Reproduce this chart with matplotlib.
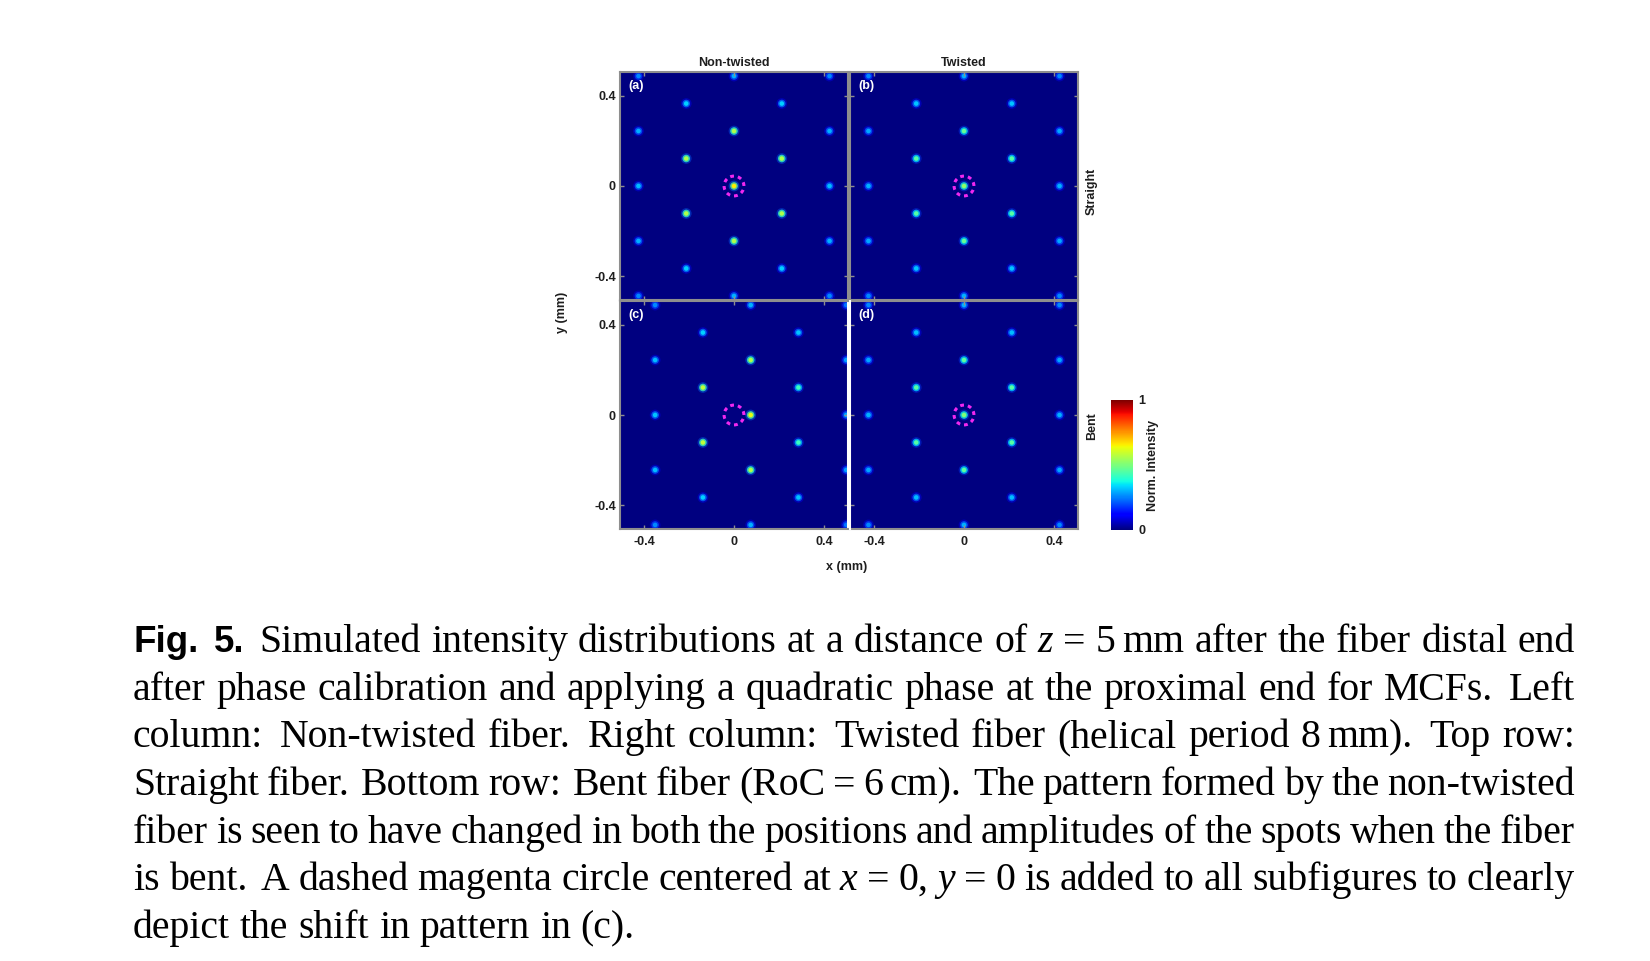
import numpy as np
import matplotlib
matplotlib.use("Agg")
import matplotlib.pyplot as plt
from matplotlib.patches import Circle

plt.rcParams["font.family"] = ["Liberation Sans", "DejaVu Sans"]
plt.rcParams["axes.unicode_minus"] = False

W, H = 1650, 961

# axis ticks
ticks = [-0.4, 0, 0.4]
tick_labels = ["-0.4", "0", "0.4"]
lim = 0.506

# core positions (mm), straight / twisted-bent panels share the same lattice
lattice_x = [0, 0, 0, 0, 0,
             -0.212, -0.212, -0.212, -0.212, 0.212, 0.212, 0.212, 0.212,
             -0.424, -0.424, -0.424, -0.424, -0.424, 0.424, 0.424, 0.424, 0.424, 0.424]
lattice_y = [0.488, 0.244, 0, -0.244, -0.488,
             0.366, 0.122, -0.122, -0.366, 0.366, 0.122, -0.122, -0.366,
             0.488, 0.244, 0, -0.244, -0.488, 0.488, 0.244, 0, -0.244, -0.488]

# bent non-twisted: pattern shifted to the right
shifted_x = [0.074, 0.074, 0.074, 0.074, 0.074,
             -0.138, -0.138, -0.138, -0.138, 0.286, 0.286, 0.286, 0.286,
             -0.350, -0.350, -0.350, -0.350, -0.350, 0.498, 0.498, 0.498, 0.498, 0.498]
shifted_y = lattice_y

amp_a = [0.30, 0.56, 0.66, 0.56, 0.30,
         0.33, 0.56, 0.56, 0.33, 0.33, 0.56, 0.56, 0.33,
         0.26, 0.30, 0.31, 0.30, 0.26, 0.26, 0.30, 0.31, 0.30, 0.26]
amp_b = [0.30, 0.47, 0.52, 0.47, 0.30,
         0.32, 0.45, 0.45, 0.32, 0.32, 0.45, 0.45, 0.32,
         0.26, 0.29, 0.30, 0.29, 0.26, 0.26, 0.29, 0.30, 0.29, 0.26]
amp_c = [0.30, 0.56, 0.63, 0.56, 0.30,
         0.33, 0.58, 0.58, 0.33, 0.32, 0.42, 0.42, 0.32,
         0.26, 0.31, 0.32, 0.31, 0.26, 0.24, 0.28, 0.29, 0.28, 0.24]
amp_d = [0.30, 0.46, 0.50, 0.46, 0.30,
         0.31, 0.45, 0.45, 0.31, 0.31, 0.45, 0.45, 0.31,
         0.26, 0.29, 0.30, 0.29, 0.26, 0.26, 0.29, 0.30, 0.29, 0.26]

panels = [
    ("(a)", lattice_x, lattice_y, amp_a, (620, 72, 848, 300)),
    ("(b)", lattice_x, lattice_y, amp_b, (850, 72, 1078, 300)),
    ("(c)", shifted_x, shifted_y, amp_c, (620, 301, 848, 529)),
    ("(d)", lattice_x, lattice_y, amp_d, (850, 301, 1078, 529)),
]
col_titles = ["Non-twisted", "Twisted"]
row_titles = ["Straight", "Bent"]
circle_r = 0.044

gray = "#8e8e8e"
txt = "#1e1e1e"


def box(x0, y0, x1, y1):
    return [x0 / W, 1 - y1 / H, (x1 - x0) / W, (y1 - y0) / H]


fig = plt.figure(figsize=(W / 100, H / 100), dpi=100)

axes = []
for i, (name, xs, ys, amp, pos) in enumerate(panels):
    ax = fig.add_axes(box(*pos))
    axes.append(ax)
    ax.set_facecolor(plt.cm.jet(0.0))
    amp = np.array(amp)
    ax.scatter(xs, ys, s=60, c=amp * 0.4, cmap="jet", vmin=0, vmax=1,
               alpha=0.4, linewidths=0)
    ax.scatter(xs, ys, s=30, c=amp * 0.75, cmap="jet", vmin=0, vmax=1,
               alpha=0.75, linewidths=0)
    sc = ax.scatter(xs, ys, s=11, c=amp, cmap="jet", vmin=0, vmax=1, linewidths=0)
    if i == 0:
        mappable = sc
    ax.add_patch(Circle((0, 0), circle_r, fill=False, edgecolor="#f028f0",
                        lw=2.2, linestyle=(0, (1.25, 1.3)), zorder=5))
    ax.set_xlim(-lim, lim)
    ax.set_ylim(-lim, lim)
    ax.set_xticks(ticks)
    ax.set_yticks(ticks)
    ax.tick_params(direction="in", length=3, width=1, color=gray, top=True,
                   right=True, labelsize=9, labelcolor=txt)
    ax.tick_params(axis="x", pad=5)
    ax.tick_params(axis="y", pad=3)
    if i >= 2:
        ax.set_xticklabels(tick_labels, fontweight="bold")
    else:
        ax.set_xticklabels([])
    if i % 2 == 0:
        ax.set_yticklabels(tick_labels, fontweight="bold")
    else:
        ax.set_yticklabels([])
    for sp in ax.spines.values():
        sp.set_color(gray)
        sp.set_linewidth(1.5)
    ax.text(0.035, 0.965, name, transform=ax.transAxes, color="white",
            fontsize=9, fontweight="bold", ha="left", va="top")
    if i < 2:
        ax.set_title(col_titles[i], fontsize=9, fontweight="bold", color=txt, pad=4)
    if i % 2 == 1:
        ax.text(1.061, 0.475 if i == 1 else 0.45, row_titles[i // 2],
                transform=ax.transAxes, rotation=90, ha="center", va="center",
                fontsize=9, fontweight="bold", color=txt)

axes[2].spines["right"].set_color("white")
axes[3].spines["left"].set_color("white")
axes[3].spines["left"].set_zorder(3)

fig.text(562 / W, 1 - 312 / H, "y (mm)", rotation=90, ha="center", va="center",
         fontsize=9, fontweight="bold", color=txt)
fig.text(847 / W, 1 - 567 / H, "x (mm)", ha="center", va="center",
         fontsize=9, fontweight="bold", color=txt)

cax = fig.add_axes(box(1111, 400, 1133, 530))
cb = fig.colorbar(mappable, cax=cax, ticks=[0, 1])
cb.outline.set_visible(False)
cax.tick_params(length=0, labelsize=9, pad=4, labelcolor=txt)
cax.set_yticklabels(["0", "1"], fontweight="bold")
cax.text(1.9, 0.5, "Norm. Intensity", transform=cax.transAxes, rotation=90,
         ha="center", va="center", fontsize=9, fontweight="bold", color=txt)

# caption, justified line by line
caption_lines = [
    "^Fig. ^5. Simulated intensity distributions at a distance of _z = 5~mm after the fiber distal end",
    "after phase calibration and applying a quadratic phase at the proximal end for MCFs. Left",
    "column: Non-twisted fiber. Right column: Twisted fiber (helical period 8~mm). Top row:",
    "Straight fiber. Bottom row: Bent fiber (RoC = 6~cm). The pattern formed by the non-twisted",
    "fiber is seen to have changed in both the positions and amplitudes of the spots when the fiber",
    "is bent. A dashed magenta circle centered at _x = 0, _y = 0 is added to all subfigures to clearly",
    "depict the shift in pattern in (c).",
]
baselines = [652, 700, 747, 795, 843, 890, 938]
cap_left, cap_right = 133, 1575
cap_size = 28.6
em = cap_size * 100 / 72

renderer = fig.canvas.get_renderer()


def make(s, style):
    kw = dict(fontsize=cap_size, color="black", va="baseline", ha="left")
    if style == "b":
        kw.update(family="Liberation Sans", fontweight="bold", fontsize=26.5)
    else:
        kw.update(family="Liberation Serif")
        if style == "i":
            kw.update(style="italic")
    t = fig.text(0, 0, s, **kw)
    return t, t.get_window_extent(renderer).width


for li, (line, base) in enumerate(zip(caption_lines, baselines)):
    words = line.split(" ")
    items = []
    for w in words:
        style = "r"
        if w.startswith("^"):
            style, w = "b", w[1:]
        elif w.startswith("_"):
            style, w = "i", w[1:]
        subs = [make(s, style) for s in w.split("~")]
        width = sum(sw for _, sw in subs) + 0.17 * em * (len(subs) - 1)
        items.append((w, subs, width))
    total = sum(it[2] for it in items)
    weights = [1.5 if it[0].endswith((".", ":")) else 1.0 for it in items[:-1]]
    if li < len(caption_lines) - 1:
        unit = (cap_right - cap_left - total) / sum(weights)
    else:
        unit = 0.25 * em
    x = cap_left
    y = 1 - base / H
    for k, (w, subs, width) in enumerate(items):
        xx = x
        for t, sw in subs:
            t.set_position((xx / W, y))
            xx += sw + 0.17 * em
        x += width
        if k < len(weights):
            x += unit * weights[k]

fig.savefig("out.png", dpi=100)
